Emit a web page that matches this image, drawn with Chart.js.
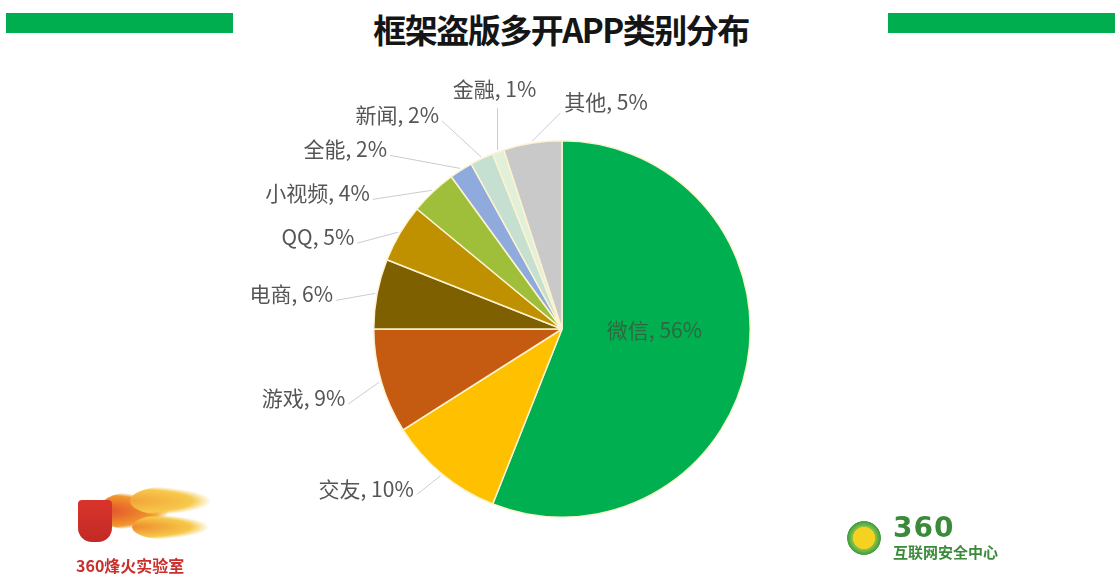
<!DOCTYPE html>
<html lang="zh">
<head>
<meta charset="utf-8">
<title>框架盗版多开APP类别分布</title>
<script src="https://cdn.jsdelivr.net/npm/chart.js@4/dist/chart.umd.min.js"></script>
<style>
  html, body { margin: 0; padding: 0; background: #fff; }
  body { width: 1115px; height: 583px; position: relative; overflow: hidden;
         font-family: "Noto Sans CJK SC", "Noto Sans", sans-serif; }
  .bar { position: absolute; top: 13px; height: 20px; background: #00ae4f; }
  #title { position: absolute; left: 0; width: 1122px; top: 5px; text-align: center;
           font-size: 33px; font-weight: 700; color: #151515; letter-spacing: -1.5px; }
  #chart-wrap { position: absolute; left: 0; top: 0; width: 1115px; height: 583px; }
  /* logos, rough approximation */
  #logo-left { position: absolute; left: 72px; top: 478px; width: 150px; height: 100px; }
  #logo-left .shield { position: absolute; left: 6px; top: 22px; width: 34px; height: 42px;
           background: linear-gradient(#d9342b, #c22a25); border-radius: 4px 4px 14px 14px; }
  #logo-left .flame { position: absolute; border-radius: 50%; }
  #logo-left .txt { position: absolute; left: 4px; top: 75px; font-size: 16px; font-weight: 700;
           color: #c9302c; white-space: nowrap; }
  #logo-right { position: absolute; left: 845px; top: 515px; width: 200px; height: 50px; }
  #logo-right .ring { position: absolute; left: 2px; top: 6px; width: 34px; height: 34px; border-radius: 50%;
           background: radial-gradient(circle, #f4d21f 45%, #8bc34a 47%, #3c9b3c 70%, #fff 72%); }
  #logo-right .n { position: absolute; left: 48px; top: -4px; font-family: "DejaVu Sans", sans-serif;
           font-size: 28px; font-weight: 700; color: #3a8a3a; letter-spacing: 1px; }
  #logo-right .t { position: absolute; left: 48px; top: 26px; font-size: 15px; font-weight: 700; color: #3a8a3a; }
</style>
</head>
<body>
<div class="bar" style="left:6px;width:227px"></div>
<div class="bar" style="left:888px;width:227px"></div>
<div id="title">框架盗版多开APP类别分布</div>
<div id="chart-wrap"><canvas id="pie"></canvas></div>

<div id="logo-left">
  <div class="flame" style="left:26px;top:14px;width:70px;height:38px;background:radial-gradient(ellipse at left, #e0462a, #f29a2e 60%, rgba(255,255,255,0) 72%)"></div>
  <div class="flame" style="left:58px;top:8px;width:80px;height:30px;background:radial-gradient(ellipse at left, #f2a33a, #f6c94a 55%, rgba(255,255,255,0) 72%)"></div>
  <div class="flame" style="left:60px;top:36px;width:76px;height:26px;background:radial-gradient(ellipse at left, #ef8a2e, #f5c848 55%, rgba(255,255,255,0) 72%)"></div>
  <div class="shield"></div>
  <div class="txt">360烽火实验室</div>
</div>
<div id="logo-right">
  <div class="ring"></div>
  <div class="n">360</div>
  <div class="t">互联网安全中心</div>
</div>

<script>
// ---------------------------------------------------------------------------
// Data
// ---------------------------------------------------------------------------
const categories = ["微信", "交友", "游戏", "电商", "QQ", "小视频", "全能", "新闻", "金融", "其他"];
const shares     = [56, 10, 9, 6, 5, 4, 2, 2, 1, 5];

const sliceColors = [
  "#00b050", "#ffc000", "#c55a11", "#7f6000", "#bf9000",
  "#9fbf3b", "#8faadc", "#c5e0d0", "#e2f0d9", "#c9c9c9",
];

// where each leader line ends, relative to the slice's outer edge point
// (layout only; null = label drawn inside the slice)
const leaderEnds = [
  null, [-24, 19], [-31, 22], [-39, 7], [-41, 11],
  [-59, 9], [-70, -13], [-39, -36], [0, -42], [28, -28],
];

// ---------------------------------------------------------------------------
// Data labels with leader lines, drawn from the arc elements
// ---------------------------------------------------------------------------
const pieLabels = {
  id: "pieLabels",
  afterDatasetsDraw(chart) {
    const ctx  = chart.ctx;
    const meta = chart.getDatasetMeta(0);
    ctx.save();
    ctx.font = "21px 'Noto Sans CJK SC', sans-serif";
    meta.data.forEach((arc, i) => {
      const p   = arc.getProps(["x", "y", "startAngle", "endAngle", "outerRadius"], true);
      const mid = (p.startAngle + p.endAngle) / 2;
      const text = categories[i] + ", " + shares[i] + "%";
      const off = leaderEnds[i];

      if (!off) {
        const r = p.outerRadius * 0.5;
        ctx.fillStyle = "#2f6840";
        ctx.textAlign = "center";
        ctx.textBaseline = "middle";
        ctx.fillText(text, p.x + Math.cos(mid) * r, p.y + Math.sin(mid) * r - 17);
        return;
      }

      const ex = p.x + Math.cos(mid) * (p.outerRadius + 2);
      const ey = p.y + Math.sin(mid) * (p.outerRadius + 2);
      const lx = ex + off[0];
      const ly = ey + off[1];

      ctx.strokeStyle = "#c8ccd4";
      ctx.lineWidth = 1;
      ctx.beginPath();
      ctx.moveTo(ex, ey);
      ctx.lineTo(lx, ly);
      ctx.stroke();

      ctx.fillStyle = "#555555";
      if (off[0] === 0) {
        ctx.textAlign = "center";
        ctx.textBaseline = "alphabetic";
        ctx.fillText(text, lx - 3, ly - 11);
      } else if (off[0] > 0) {
        ctx.textAlign = "left";
        ctx.textBaseline = "middle";
        ctx.fillText(text, lx + 4, ly - 11);
      } else {
        ctx.textAlign = "right";
        ctx.textBaseline = "middle";
        ctx.fillText(text, lx - 3, ly - 6);
      }
    });
    ctx.restore();
  },
};

new Chart(document.getElementById("pie"), {
  type: "pie",
  data: {
    labels: categories,
    datasets: [{
      data:            shares,
      backgroundColor: sliceColors,
      borderColor:     "#fdf3d0",
      borderWidth:     1.5,
    }],
  },
  options: {
    responsive:          true,
    maintainAspectRatio: false,
    animation:           false,
    layout: { padding: { left: 373, right: 364, top: 140, bottom: 65 } },
    plugins: {
      legend:  { display: false },
      tooltip: { enabled: false },
    },
  },
  plugins: [pieLabels],
});
</script>
</body>
</html>
